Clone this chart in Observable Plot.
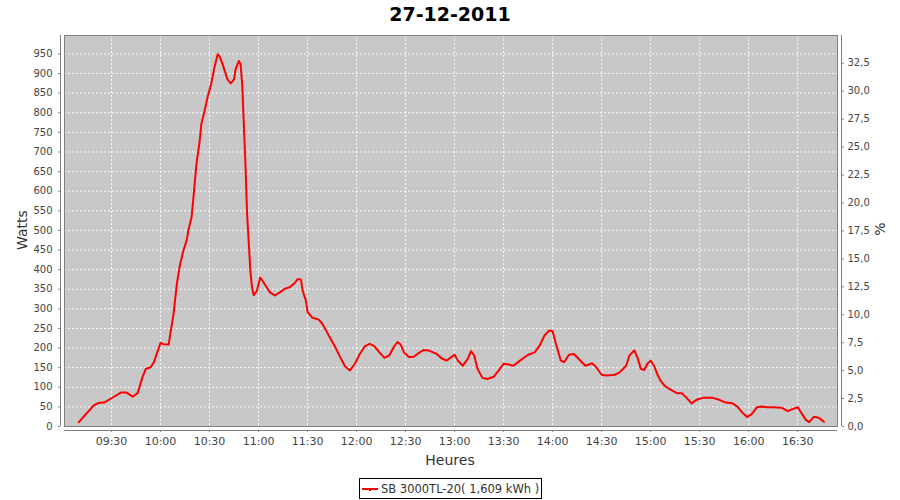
<!DOCTYPE html>
<html>
<head>
<meta charset="utf-8">
<script src="https://cdn.jsdelivr.net/npm/d3@7"></script>
<script src="https://cdn.jsdelivr.net/npm/@observablehq/plot@0.6"></script>
<style>
  body { margin: 0; background: #fff; font-family: "DejaVu Sans", sans-serif; }
  #wrap { position: relative; width: 900px; height: 500px; overflow: hidden; }
  #title { position: absolute; left: 0; top: 5px; width: 900px; text-align: center;
           font-weight: bold; font-size: 19px; line-height: 19px; color: #000; }
  #chart { position: absolute; left: 0; top: 30px; }
  .alab { position: absolute; font-size: 14px; line-height: 14px; color: #333; white-space: nowrap; }
  #xlab { left: 450px; top: 460px; transform: translate(-50%, -50%); }
  #ylab { left: 22px; top: 230px; transform: translate(-50%, -50%) rotate(-90deg); }
  #y2lab { left: 880px; top: 229px; transform: translate(-50%, -50%) rotate(-90deg); }
  #legend { position: absolute; left: 359px; top: 478px; width: 183px; height: 21px; box-sizing: border-box;
            border: 1px solid #000; display: flex; align-items: center; padding-left: 2px;
            font-size: 11.5px; color: #333; white-space: nowrap; }
  #legend .sw { position: relative; display: inline-block; width: 16px; height: 2px; background: #f00; margin-right: 3px; }
  #legend .sw::after { content: ""; position: absolute; left: 7px; top: 1px; width: 2px; height: 2px; background: #f00; }
</style>
</head>
<body>
<div id="wrap">
  <div id="title">27-12-2011</div>
  <div id="chart"></div>
  <div class="alab" id="xlab">Heures</div>
  <div class="alab" id="ylab">Watts</div>
  <div class="alab" id="y2lab">%</div>
  <div id="legend"><span class="sw"></span><span>SB 3000TL-20( 1,609 kWh )</span></div>
</div>
<script>
// ---- data ----
const times = [
  "09:10","09:19","09:22","09:26","09:30","09:36","09:39","09:43","09:46","09:49",
  "09:51","09:54","09:56","09:58","10:00","10:02","10:05","10:06","10:08","10:10",
  "10:12","10:14","10:16","10:17","10:19","10:20","10:22","10:24","10:25","10:27",
  "10:29","10:31","10:33","10:35","10:36","10:38","10:40","10:41","10:43","10:45",
  "10:46","10:48","10:49","10:50","10:52","10:53","10:55","10:56","10:57","10:59",
  "11:01","11:03","11:05","11:07","11:10","11:13","11:16","11:19","11:22","11:24",
  "11:26","11:27","11:29","11:30","11:33","11:36","11:37","11:39","11:42","11:43",
  "11:47","11:50","11:53","11:56","11:59","12:02","12:05","12:08","12:11","12:14",
  "12:17","12:20","12:23","12:25","12:27","12:29","12:32","12:35","12:38","12:41",
  "12:44","12:49","12:52","12:55","12:58","13:00","13:02","13:05","13:08","13:10",
  "13:12","13:14","13:17","13:20","13:24","13:27","13:30","13:33","13:36","13:40",
  "13:45","13:49","13:52","13:55","13:58","14:00","14:02","14:05","14:07","14:10",
  "14:13","14:16","14:20","14:24","14:26","14:30","14:33","14:38","14:41","14:45",
  "14:47","14:50","14:52","14:54","14:56","14:58","15:00","15:02","15:04","15:06",
  "15:09","15:13","15:16","15:19","15:22","15:25","15:28","15:32","15:38","15:42",
  "15:46","15:50","15:53","15:56","15:59","16:02","16:05","16:08","16:11","16:15",
  "16:20","16:24","16:26","16:30","16:32","16:35","16:37","16:40","16:43","16:46"
];
const watts = [
  11, 53, 60, 62, 72, 87, 87, 76, 85, 126,
  147, 151, 164, 189, 213, 210, 209, 236, 287, 363,
  414, 448, 474, 499, 533, 576, 669, 728, 771, 805,
  843, 873, 915, 949, 945, 924, 898, 885, 875, 885,
  911, 932, 924, 873, 669, 542, 397, 355, 335, 346,
  380, 368, 355, 342, 334, 342, 351, 355, 365, 376,
  374, 346, 321, 292, 277, 274, 272, 262, 240, 232,
  202, 177, 153, 143, 160, 185, 204, 211, 204, 189,
  175, 181, 204, 215, 209, 189, 177, 178, 187, 195,
  194, 185, 174, 168, 177, 183, 168, 155, 172, 192,
  181, 147, 124, 121, 127, 143, 160, 158, 155, 168,
  183, 189, 206, 232, 245, 243, 211, 168, 164, 183,
  185, 172, 155, 161, 155, 132, 130, 132, 138, 155,
  181, 194, 175, 147, 144, 160, 168, 155, 134, 117,
  102, 92, 85, 85, 73, 59, 68, 73, 73, 68,
  61, 59, 51, 36, 24, 32, 49, 51, 49, 49,
  48, 39, 43, 49, 36, 17, 11, 25, 22, 12
];
const xTicks = ["09:30","10:00","10:30","11:00","11:30","12:00","12:30","13:00",
                "13:30","14:00","14:30","15:00","15:30","16:00","16:30"];
const wattTicks = [0,50,100,150,200,250,300,350,400,450,500,550,600,650,700,750,800,850,900,950];
const pctTicks = [0,2.5,5,7.5,10,12.5,15,17.5,20,22.5,25,27.5,30,32.5];
const xRange = ["09:01:15", "16:54:20"];
const yMax = 997;
const wattsPerPct = 28.5;

// ---- build ----
const parse = s => {
  const [h, m, sec] = s.split(":").map(Number);
  return new Date(Date.UTC(2011, 11, 27, h, m, sec || 0));
};
const data = times.map((t, i) => ({time: parse(t), watts: watts[i]}));
const xTickDates = xTicks.map(parse);
const xDomain = xRange.map(parse);
const pctAsWatts = pctTicks.map(p => p * wattsPerPct);
const grey = "#808080";
const gridStyle = {stroke: "#ffffff", strokeOpacity: 0.9, strokeWidth: 1, strokeDasharray: "2,2"};

const chart = Plot.plot({
  width: 900,
  height: 440,
  marginTop: 5,
  marginBottom: 44,
  marginLeft: 64,
  marginRight: 63,
  style: {fontFamily: "DejaVu Sans, sans-serif", background: "transparent", color: "#444"},
  x: {type: "utc", domain: xDomain},
  y: {domain: [0, yMax]},
  marks: [
    Plot.frame({fill: "#c8c8c8", stroke: null}),
    Plot.gridX(xTickDates, gridStyle),
    Plot.gridY(wattTicks, gridStyle),
    Plot.frame({stroke: grey, fill: null}),
    Plot.ruleX([xDomain[0]], {dx: -4, stroke: grey}),
    Plot.ruleX([xDomain[1]], {dx: 4, stroke: grey}),
    Plot.ruleY([0], {dy: 4, stroke: grey}),
    Plot.axisY(wattTicks, {anchor: "left", dx: -4, tickSize: 2, tickPadding: 6, stroke: grey,
                           fill: "#444", fontSize: 10, label: null}),
    Plot.axisY(pctAsWatts, {anchor: "right", dx: 4, tickSize: 2, tickPadding: 4, stroke: grey,
                            fill: "#444", fontSize: 10, label: null,
                            tickFormat: w => (w / wattsPerPct).toFixed(1).replace(".", ",")}),
    Plot.axisX(xTickDates, {anchor: "bottom", dy: 4, tickSize: 2, tickPadding: 5, stroke: grey,
                            fill: "#444", fontSize: 11, label: null,
                            tickFormat: d3.utcFormat("%H:%M")}),
    Plot.line(data, {x: "time", y: "watts", stroke: "#ff0000", strokeWidth: 2, curve: "linear"})
  ]
});
document.getElementById("chart").appendChild(chart);
</script>
</body>
</html>
